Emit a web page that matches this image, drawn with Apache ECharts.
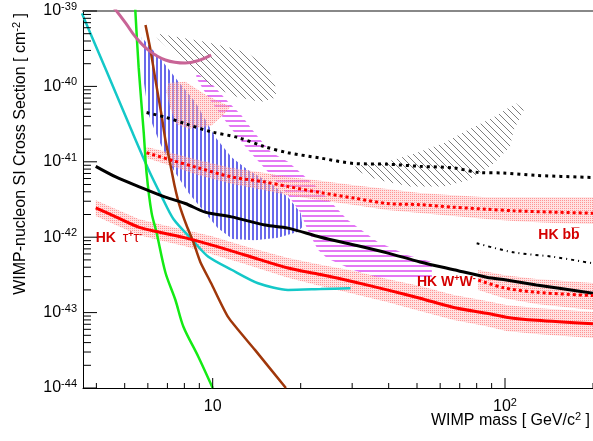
<!DOCTYPE html>
<html>
<head>
<meta charset="utf-8">
<script src="https://cdn.jsdelivr.net/npm/echarts@6/dist/echarts.min.js"></script>
<style>
html, body { margin: 0; padding: 0; background: #fff; }
#main { width: 593px; height: 441px; }
</style>
</head>
<body>
<div id="main"></div>
<script>
// [WIMP mass (GeV/c^2), SI cross section (cm^2)]
var cyanLimit = [[3.57,9.3e-40],[4.08,2.75e-40],[4.66,8.2e-41],[5.28,2.6e-41],[6.04,7.8e-42],[6.68,3.5e-42],[7.34,1.74e-42],[8.58,8.9e-43],[9.66,5.5e-43],[11.6,3.7e-43],[14.3,2.45e-43],[18.1,2.0e-43],[23.4,2.05e-43],[29.6,2.1e-43]];
var greenLimit = [[5.43,1.1e-39],[5.58,1.8e-40],[5.81,2.4e-41],[5.94,7.1e-42],[6.18,2.1e-42],[6.42,1.17e-42],[6.89,3.4e-43],[7.45,1.48e-43],[7.94,6.5e-44],[8.93,2.6e-44],[10,1e-44]];
var brownLimit = [[5.89,6.5e-40],[6.13,3.0e-40],[6.37,1.22e-40],[6.68,4.2e-41],[6.89,1.95e-41],[7.17,9.1e-42],[7.40,4.9e-42],[7.69,2.69e-42],[8.13,1.45e-42],[8.58,8.7e-43],[9.07,4.7e-43],[9.88,2.45e-43],[11.3,8.7e-44],[13.95,3.2e-44],[17.8,1e-44]];
var mauveLimit = [[4.6,1.1e-39],[5.04,6.9e-40],[5.45,4.5e-40],[6.04,3.0e-40],[6.89,2.24e-40],[8.06,2.04e-40],[8.93,2.2e-40],[9.88,2.6e-40]];
var blackLimit = [[3.98,8.7e-42],[4.66,6.3e-42],[5.58,4.7e-42],[6.89,3.4e-42],[8.06,2.8e-42],[9.43,2.15e-42],[11.6,1.86e-42],[15.1,1.45e-42],[18.1,1.32e-42],[23.4,1.0e-42],[30.5,7.9e-43],[39.5,6.2e-43],[51.2,4.7e-43],[66.8,3.7e-43],[86.5,2.95e-43],[101,2.7e-43],[128,2.33e-43],[200,1.8e-43]];
var blackDotted = [[5.94,4.5e-41],[6.89,3.9e-41],[8.06,3.2e-41],[9.88,2.5e-41],[12.2,2.1e-41],[15.1,1.58e-41],[18.1,1.32e-41],[23.4,1.12e-41],[30.5,9.5e-42],[39.5,9.3e-42],[51.2,8.7e-42],[66.8,8.3e-42],[81.8,7.2e-42],[98.8,7.1e-42],[128,6.6e-42],[200,6.2e-42]];
var blackDashDot = [[80,8.3e-43],[107,6.3e-43],[146,5.5e-43],[200,4.5e-43]];

// Hyper-K sensitivities and their bands
var hkTau = [[3.98,2.45e-42],[4.66,1.86e-42],[5.58,1.36e-42],[6.53,1.17e-42],[8.06,9.8e-43],[9.88,7.9e-43],[12.9,5.8e-43],[18.1,3.9e-43],[23.4,3.2e-43],[30.5,2.55e-43],[39.5,2.0e-43],[51.2,1.55e-43],[66.8,1.17e-43],[86.5,9.8e-44],[101,8.7e-44],[128,7.9e-44],[200,7.1e-44]];
var hkTauHigh = [[3.98,3.1e-42],[4.66,2.37e-42],[5.58,1.74e-42],[6.53,1.5e-42],[8.06,1.25e-42],[9.88,1.04e-42],[12.9,7.6e-43],[18.1,5.3e-43],[23.4,4.3e-43],[30.5,3.55e-43],[39.5,2.8e-43],[51.2,2.25e-43],[66.8,1.71e-43],[86.5,1.43e-43],[101,1.26e-43],[128,1.15e-43],[200,1.02e-43]];
var hkTauLow = [[3.98,1.91e-42],[4.66,1.45e-42],[5.58,1.07e-42],[6.53,9.2e-43],[8.06,7.6e-43],[9.88,6.0e-43],[12.9,4.4e-43],[18.1,2.9e-43],[23.4,2.25e-43],[30.5,1.77e-43],[39.5,1.38e-43],[51.2,1.05e-43],[66.8,8.0e-44],[86.5,6.6e-44],[101,5.7e-44],[128,5.2e-44],[200,4.6e-44]];
var hkBB = [[5.94,1.32e-41],[7.23,1.05e-41],[8.93,8.3e-42],[11.6,6.3e-42],[15.1,5.4e-42],[18.1,4.7e-42],[23.4,3.9e-42],[30.5,3.3e-42],[39.5,2.8e-42],[51.2,2.7e-42],[66.8,2.5e-42],[86.5,2.35e-42],[107,2.24e-42],[146,2.15e-42],[200,2.08e-42]];
var hkBBHigh = [[5.94,1.57e-41],[7.23,1.31e-41],[8.93,1.06e-41],[11.6,8.3e-42],[15.1,7.1e-42],[18.1,6.3e-42],[23.4,5.6e-42],[30.5,4.9e-42],[39.5,4.35e-42],[51.2,3.85e-42],[66.8,3.6e-42],[86.5,3.4e-42],[107,3.4e-42],[146,3.4e-42],[200,3.4e-42]];
var hkBBLow = [[5.94,1.12e-41],[7.23,8.8e-42],[8.93,6.7e-42],[11.6,5.1e-42],[15.1,4.2e-42],[18.1,3.6e-42],[23.4,3.1e-42],[30.5,2.67e-42],[39.5,2.3e-42],[51.2,2.1e-42],[66.8,1.91e-42],[86.5,1.74e-42],[107,1.64e-42],[146,1.54e-42],[200,1.5e-42]];
var hkWW = [[81,2.7e-43],[98.8,2.14e-43],[128,1.86e-43],[200,1.68e-43]];
var hkWWHigh = [[81,3.67e-43],[98.8,3.15e-43],[128,2.8e-43],[200,2.47e-43]];
var hkWWLow = [[81,2.0e-43],[98.8,1.56e-43],[128,1.3e-43],[200,1.08e-43]];

// signal regions (closed contours)
var blueRegion = [[5.72,4.5e-40],[6.68,2.24e-40],[7.64,1.15e-40],[8.72,6.2e-41],[10.2,2.14e-41],[11.6,1.15e-41],[13.2,7.8e-42],[15.8,5.2e-42],[18.1,3.4e-42],[20.0,2.1e-42],[20.3,1.38e-42],[19.5,1.17e-42],[16.7,9.8e-43],[13.95,9.1e-43],[11.7,9.5e-43],[10.4,1.32e-42],[9.43,2.1e-42],[8.26,3.9e-42],[7.23,8.5e-42],[6.53,1.95e-41],[6.04,4.2e-41],[5.81,1.15e-40]];
var violetRegion = [[8.79,1.51e-40],[10.0,1.05e-40],[11.3,6.2e-41],[12.5,4.2e-41],[13.95,2.4e-41],[15.8,1.35e-41],[18.1,1.0e-41],[19.5,7.8e-42],[22.9,4.5e-42],[28.9,1.7e-42],[36.6,8.7e-43],[46.2,5.8e-43],[56.2,4.7e-43],[56.2,2.9e-43],[42.8,2.7e-43],[36.6,2.9e-43],[30.1,3.7e-43],[24.7,5.2e-43],[22.9,6.8e-43],[21.1,1.26e-42],[20.0,2.1e-42],[18.1,3.6e-42],[15.8,6.7e-42],[13.2,1.45e-41],[11.3,3.1e-41],[9.66,7.1e-41],[8.79,1.29e-40]];
var pinkRegion = [[7.06,1.11e-40],[8.06,1.15e-40],[9.43,7.8e-41],[10.6,6.2e-41],[11.5,5.4e-41],[10.9,4.2e-41],[9.88,3.0e-41],[8.26,2.75e-41],[7.51,3.2e-41],[7.17,5.1e-41],[6.94,8.5e-41]];
var grayRegionLow = [[6.28,5.1e-40],[7.64,4.5e-40],[9.43,3.9e-40],[11.3,3.3e-40],[13.2,2.75e-40],[15.1,1.9e-40],[16.3,1.15e-40],[16.5,7.1e-41],[14.6,6.2e-41],[12.2,7.2e-41],[10.2,9.5e-41],[8.72,1.41e-40],[7.64,2.4e-40],[6.53,4.2e-40]];
var grayRegionHigh = [[29.6,8.3e-42],[36.6,5.8e-42],[47.3,4.7e-42],[61.8,4.7e-42],[75.7,5.8e-42],[91.4,9.5e-42],[104,1.58e-41],[107,2.6e-41],[116,4.9e-41],[109,6.0e-41],[91.4,3.9e-41],[74,2.6e-41],[61.8,1.78e-41],[50,1.32e-41],[39.5,1.0e-41],[32.0,9.1e-42]];

// text labels: [mass, sigma]
var labelPos = [[3.98,9.8e-43],[130,1.07e-42],[50,2.57e-43]];
var labelText = ['{h|HK}  {g|τ}{s|+}{g|τ}{s|-}', '{h|HK b}{h|b\u0305}', '{h|HK W}{s|+}{h|W}{s|-}'];

// axis ticks
var xMajor = [10, 100];
var xMinor = [4, 5, 6, 7, 8, 9, 20, 30, 40, 50, 60, 70, 80, 90, 200];
var yDecades = [-44, -43, -42, -41, -40, -39];
var yMinorSteps = [2, 3, 4, 5, 6, 7, 8, 9];

var FONT = 'Liberation Sans';
// ECharts rounds very small log values to zero, so the y axis runs in units of 1e-44 cm^2
var Y_UNIT = 1e-44;
var xMin = 3.6, xMax = 200, yMin = 1, yMax = 1e5;

function toPlot(pts) {
    return pts.map(function (p) { return [p[0], p[1] / Y_UNIT]; });
}

function pattern(w, h, draw) {
    var c = document.createElement('canvas');
    c.width = w; c.height = h;
    draw(c.getContext('2d'));
    return {image: c, repeat: 'repeat'};
}
var blueHatch = pattern(4, 4, function (g) {
    g.fillStyle = 'rgb(105,105,235)'; g.fillRect(0, 0, 2, 4);
});
var violetHatch = pattern(5, 5, function (g) {
    g.fillStyle = 'rgb(228,120,245)'; g.fillRect(0, 0, 5, 2);
});
var grayHatch = pattern(7, 7, function (g) {
    g.strokeStyle = 'rgb(125,125,125)'; g.lineWidth = 1;
    g.beginPath();
    g.moveTo(-1, -1); g.lineTo(8, 8);
    g.moveTo(-1, 6); g.lineTo(1, 8);
    g.moveTo(6, -1); g.lineTo(8, 1);
    g.stroke();
});
var pinkDots = pattern(2, 2, function (g) {
    g.fillStyle = 'rgba(255,190,190,0.45)'; g.fillRect(0, 0, 2, 2);
    g.fillStyle = 'rgba(255,70,70,0.5)'; g.fillRect(0, 0, 1, 1);
});

function area(name, pts, fill, z) {
    var plotPts = toPlot(pts);
    return {
        type: 'custom', name: name, z: z, silent: true,
        coordinateSystem: 'cartesian2d',
        data: [plotPts[0]],
        renderItem: function (params, api) {
            return {
                type: 'polygon',
                shape: {points: plotPts.map(function (p) { return api.coord(p); })},
                style: {fill: fill, stroke: null}
            };
        }
    };
}
function band(name, high, low, fill, z) {
    return area(name, high.concat(low.slice().reverse()), fill, z);
}
function curve(name, pts, color, width, dash, smooth) {
    return {
        type: 'line', name: name, data: toPlot(pts), symbol: 'none', showSymbol: false,
        smooth: smooth, z: 5, silent: true, clip: true,
        lineStyle: {color: color, width: width, type: dash || 'solid', cap: 'butt'}
    };
}

function powLabel(offset) {
    return function (v) {
        var e = Math.log10(v), r = Math.round(e);
        if (Math.abs(e - r) > 1e-6) return '';
        r += offset;
        return r === 1 ? '{n|10}' : '{n|10}{s|' + r + '}';
    };
}

var xTickData = xMajor.map(function (v) { return [v, yMin, 10]; })
    .concat(xMinor.map(function (v) { return [v, yMin, 5]; }));
var yTickData = [];
yDecades.forEach(function (d) {
    yTickData.push([xMin, Math.pow(10, d + 44), 14]);
    if (d < -39) yMinorSteps.forEach(function (m) { yTickData.push([xMin, m * Math.pow(10, d + 44), 8]); });
});

function tickSeries(data, vertical) {
    return {
        type: 'custom', z: 10, silent: true, coordinateSystem: 'cartesian2d',
        data: data,
        renderItem: function (params, api) {
            var p = api.coord([api.value(0), api.value(1)]);
            var len = api.value(2);
            return {
                type: 'line',
                shape: vertical ? {x1: p[0], y1: p[1], x2: p[0], y2: p[1] - len}
                                : {x1: p[0], y1: p[1], x2: p[0] + len, y2: p[1]},
                style: {stroke: '#000', lineWidth: 1}
            };
        }
    };
}

var labelRich = {
    h: {fill: '#d40000', fontFamily: FONT, fontWeight: 'bold', fontSize: 14, lineHeight: 16},
    g: {fill: '#d40000', fontFamily: FONT, fontSize: 14, lineHeight: 16},
    s: {fill: '#d40000', fontFamily: FONT, fontWeight: 'bold', fontSize: 9, verticalAlign: 'top', lineHeight: 16}
};

var axisRich = {
    n: {fontFamily: FONT, fontSize: 16, color: '#000', lineHeight: 19},
    s: {fontFamily: FONT, fontSize: 11, color: '#000', verticalAlign: 'top', lineHeight: 19}
};
var titleRich = {
    n: {fontFamily: FONT, fontSize: 16, fill: '#000', lineHeight: 19},
    s: {fontFamily: FONT, fontSize: 11, fill: '#000', verticalAlign: 'top', lineHeight: 19}
};

var chart = echarts.init(document.getElementById('main'));
var option = {
    animation: false,
    backgroundColor: '#fff',
    grid: {left: 83, top: 11, right: -4, bottom: 53},
    xAxis: [{
        type: 'log', logBase: 10, min: xMin, max: xMax,
        axisLine: {lineStyle: {color: '#000', width: 1}},
        axisTick: {show: false},
        splitLine: {show: false},
        axisLabel: {margin: 9, formatter: powLabel(0), rich: axisRich, showMinLabel: false, showMaxLabel: false}
    }, {
        type: 'log', logBase: 10, min: xMin, max: xMax, position: 'top',
        axisLine: {lineStyle: {color: '#888', width: 2}},
        axisTick: {show: false}, axisLabel: {show: false}, splitLine: {show: false}
    }],
    yAxis: {
        type: 'log', logBase: 10, min: yMin, max: yMax,
        axisLine: {show: true, lineStyle: {color: '#000', width: 1}},
        axisTick: {show: false},
        splitLine: {show: false},
        axisLabel: {margin: 6, formatter: powLabel(-44), rich: axisRich}
    },
    graphic: [{
        type: 'text', x: 21, y: 13, rotation: Math.PI / 2,
        style: {
            text: '{n|WIMP-nucleon SI Cross Section [ cm}{s|-2}{n| ]}',
            align: 'right', verticalAlign: 'middle', rich: titleRich
        }
    }, {
        type: 'text', x: 590, y: 421,
        style: {
            text: '{n|WIMP mass [ GeV/c}{s|2}{n| ]}',
            align: 'right', verticalAlign: 'middle', rich: titleRich
        }
    }],
    series: [
        area('violet', violetRegion, violetHatch, 1),
        area('blue', blueRegion, blueHatch, 2),
        area('pink', pinkRegion, pinkDots, 2),
        area('gray low', grayRegionLow, grayHatch, 2),
        area('gray high', grayRegionHigh, grayHatch, 2),
        band('bb band', hkBBHigh, hkBBLow, pinkDots, 3),
        band('ww band', hkWWHigh, hkWWLow, pinkDots, 3),
        band('tau band', hkTauHigh, hkTauLow, pinkDots, 3),
        curve('cyan', cyanLimit, 'rgb(20,200,200)', 2.5, null, 0.25),
        curve('green', greenLimit, 'rgb(20,235,20)', 2.5, null, 0.3),
        curve('brown', brownLimit, 'rgb(160,55,10)', 2.5, null, 0.2),
        curve('mauve', mauveLimit, 'rgb(200,100,150)', 3, null, 0.4),
        curve('black', blackLimit, '#000', 3, null, 0.3),
        curve('black dotted', blackDotted, '#000', 3, [3, 4], 0.3),
        curve('black dash-dot', blackDashDot, '#000', 2, [3, 4, 1, 4], 0.3),
        curve('HK bb', hkBB, '#ff0000', 3, [3, 3], 0.3),
        curve('HK WW', hkWW, '#ff0000', 3, [3, 3], 0.3),
        curve('HK tau', hkTau, '#ff0000', 3, null, 0.3),
        {
            type: 'custom', z: 8, silent: true, coordinateSystem: 'cartesian2d',
            data: toPlot(labelPos),
            renderItem: function (params, api) {
                var p = api.coord([api.value(0), api.value(1)]);
                return {
                    type: 'text', x: p[0], y: p[1],
                    style: {text: labelText[params.dataIndex], rich: labelRich, align: 'left', verticalAlign: 'middle'}
                };
            }
        },
        tickSeries(xTickData, true),
        tickSeries(yTickData, false)
    ]
};
chart.setOption(option);
</script>
</body>
</html>
